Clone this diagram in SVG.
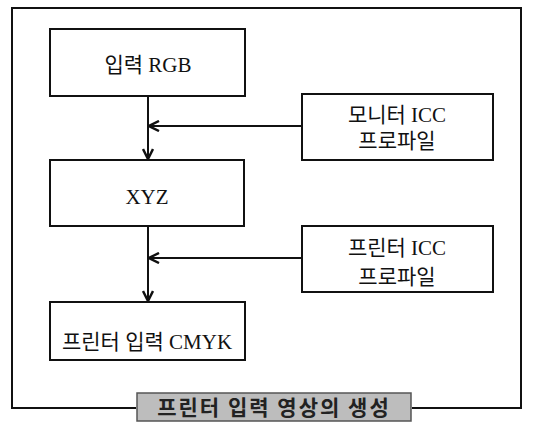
<svg xmlns="http://www.w3.org/2000/svg" width="534" height="423" viewBox="0 0 534 423">
<defs>
<style>
.box{fill:#fff;stroke:#111;stroke-width:2}
.t{font-family:"Liberation Serif","Noto Sans CJK KR",serif;font-size:21px;fill:#111;text-anchor:middle}
.ln{stroke:#111;stroke-width:2;fill:none}
</style>
<marker id="ah" viewBox="0 0 12 12" refX="11" refY="6" markerWidth="12" markerHeight="12" markerUnits="userSpaceOnUse" orient="auto">
<path d="M1,1 L11,6 L1,11" fill="none" stroke="#111" stroke-width="2.5"/>
</marker>
</defs>
<rect width="534" height="423" fill="#fff"/>
<g id="frame">
<path class="ln" d="M136,408 H12 V8 H521 V408 H412"/>
</g>
<g id="connectors">
<path class="ln" d="M148,96 V159" marker-end="url(#ah)"/>
<path class="ln" d="M302,126 H149" marker-end="url(#ah)"/>
<path class="ln" d="M148,226 V301" marker-end="url(#ah)"/>
<path class="ln" d="M302,258 H149" marker-end="url(#ah)"/>
</g>
<g id="n1"><rect class="box" x="50" y="29" width="195" height="67"/><text class="t" x="148" y="72">입력 RGB</text></g>
<g id="n2"><rect class="box" x="302" y="94" width="191" height="66"/><text class="t" x="397" y="122">모니터 ICC</text><text class="t" x="397" y="148">프로파일</text></g>
<g id="n3"><rect class="box" x="50" y="160" width="194" height="66"/><text class="t" x="147" y="204">XYZ</text></g>
<g id="n4"><rect class="box" x="302" y="226" width="191" height="66"/><text class="t" x="397" y="255">프린터 ICC</text><text class="t" x="397" y="284">프로파일</text></g>
<g id="n5"><rect class="box" x="50" y="302" width="195" height="58"/><text class="t" x="147" y="349">프린터 입력 CMYK</text></g>
<g id="title"><rect x="137" y="393" width="274" height="28" fill="#bdbdbd" stroke="#555" stroke-width="1.5"/><text x="274" y="415" font-family="'Noto Sans CJK KR',sans-serif" font-weight="bold" font-size="21" fill="#222" text-anchor="middle" letter-spacing="2">프린터 입력 영상의 생성</text></g>
</svg>
